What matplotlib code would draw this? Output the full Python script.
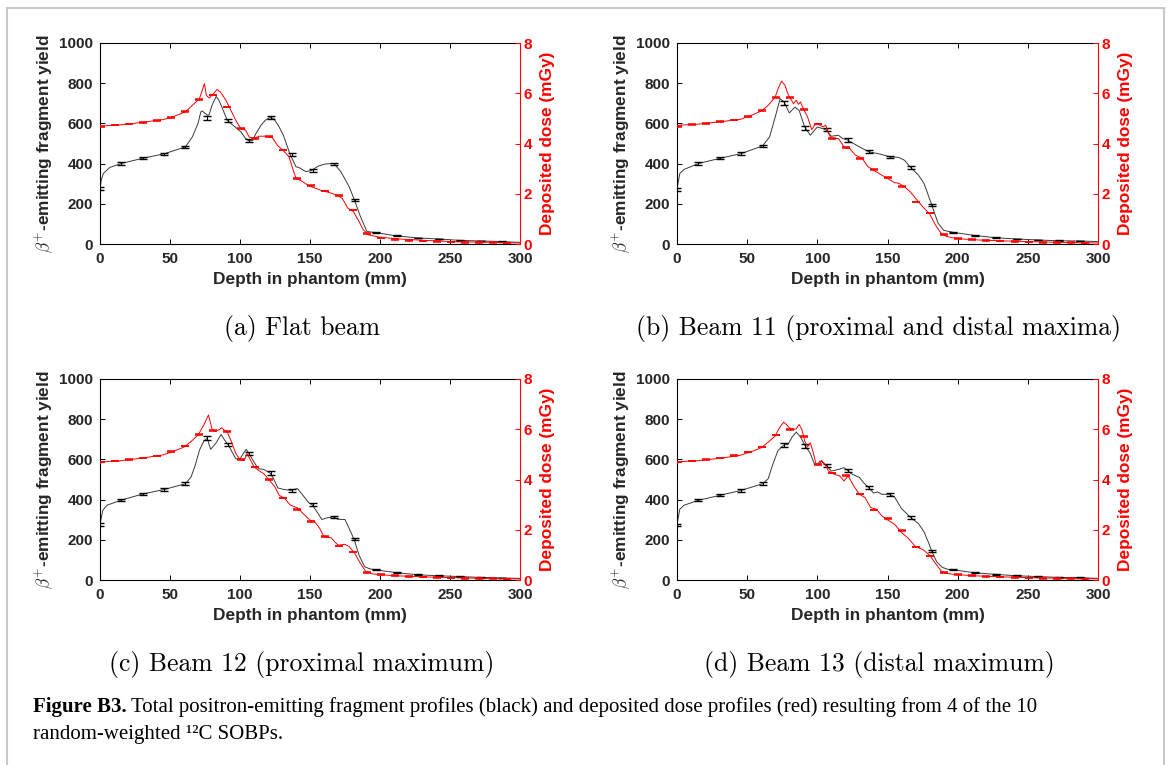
import numpy as np
import matplotlib
matplotlib.use("Agg")
from matplotlib import pyplot as plt
from matplotlib.patches import Rectangle

plt.rcParams['font.family'] = ['Liberation Sans', 'DejaVu Sans']
plt.rcParams['mathtext.fontset'] = 'cm'

# shared marker positions (mm)
eb_depth = [0, 15.3, 30.5, 45.8, 61, 76.3, 91.5, 106.6, 121.8, 137, 152, 167, 182, 197, 212, 227, 242, 257, 272, 287]
eb_err = [6, 6, 5, 6, 7, 10, 9, 8, 9, 7, 6, 6, 5, 3, 3, 2, 2, 2, 2, 2]
rd_depth = [0.5, 10.5, 20.5, 30.5, 40.5, 50.5, 60.5, 70.5, 80.5, 90.5, 100.5, 110.5, 120.5, 130.5, 140.5,
            150.5, 160.5, 170.5, 180.5, 190.5, 200.5, 210.5, 220.5, 230.5, 240.5, 250.5, 260.5, 270.5, 280.5, 290.5]

# (a) flat beam
a_depth = [0, 1, 2.4, 7, 15.4, 30.8, 46, 61, 66, 70, 72, 73, 75, 77, 78, 80, 83, 85, 88, 91, 95, 100.6, 104, 106.5,
           109, 111, 115, 118, 121, 124, 128, 131, 135.7, 140, 142, 147, 151, 156, 161, 167, 172, 178, 181.6, 186,
           190.6, 194, 197, 211, 227, 242, 257, 272, 287, 300]
a_yield = [277, 320, 351, 381, 401, 427, 449, 483, 533, 600, 657, 662, 650, 640, 645, 690, 734, 715, 665, 614, 591, 558,
           525, 512, 516, 545, 591, 615, 629, 625, 582, 541, 447, 384, 381, 360, 366, 388, 398, 401, 360, 285, 221, 137,
           63, 59, 57, 41, 30, 25, 18, 15, 12, 8]
a_eb = [277, 401, 427, 449, 483, 629, 614, 513, 629, 447, 366, 399, 221, 58, 41, 30, 25, 18, 15, 12]
a_dose_depth = [0, 2, 16.6, 31, 45, 51, 58, 61.6, 66, 71, 73, 74.6, 76, 78, 80.5, 83.6, 86, 90, 93.5, 97, 100.6, 104,
                106.5, 110, 113.7, 118, 123, 126.7, 131, 135, 138, 140, 144, 149, 154, 159, 163, 169, 173, 177, 181,
                185, 188, 192, 199, 213, 230, 253, 277, 300]
a_dose = [4.63, 4.70, 4.75, 4.85, 4.95, 5.04, 5.19, 5.29, 5.52, 5.78, 6.11, 6.38, 5.91, 5.81, 5.95, 6.15, 6.05, 5.72,
          5.32, 4.92, 4.59, 4.53, 4.26, 4.20, 4.29, 4.29, 4.24, 3.93, 3.71, 3.47, 2.94, 2.61, 2.51, 2.32, 2.22, 2.11,
          2.06, 1.95, 1.82, 1.43, 1.29, 0.90, 0.57, 0.36, 0.28, 0.20, 0.15, 0.09, 0.07, 0.04]
a_rd = [4.68, 4.74, 4.78, 4.84, 4.92, 5.04, 5.28, 5.76, 5.93, 5.45, 4.60, 4.19, 4.28, 3.74, 2.60, 2.33, 2.11, 1.93,
        1.36, 0.42, 0.24, 0.18, 0.14, 0.12, 0.10, 0.08, 0.07, 0.06, 0.05, 0.04]

# (b) beam 11
b_depth = [0, 2, 5, 15.5, 30.5, 45.8, 61, 66, 70, 73.5, 76.5, 80, 84, 87, 91, 95, 97, 100, 104, 106.5, 110, 115, 118,
           121.5, 130, 136.5, 145, 151.5, 158, 162, 166.5, 172, 176, 181.5, 186, 190, 196.5, 211.5, 227, 242, 257,
           272, 287, 300]
b_yield = [272, 351, 371, 401, 426, 450, 488, 533, 632, 723, 705, 652, 681, 665, 582, 541, 558, 582, 574, 566, 536,
           541, 525, 517, 483, 459, 447, 434, 431, 417, 381, 343, 302, 195, 104, 68, 58, 43, 31, 25, 20, 16, 15, 12]
b_eb = [272, 401, 426, 450, 488, 701, 578, 569, 517, 459, 434, 381, 195, 58, 43, 31, 25, 20, 16, 15]
b_dose_depth = [0, 2, 15, 30, 45, 52, 60, 65, 70, 72, 74.5, 77, 79, 81, 83, 85, 86.5, 88, 90, 93, 96, 98, 100, 104,
                106, 108, 110, 115, 119, 123, 127, 132, 136, 140, 145, 150, 155, 158, 162, 166, 170, 175, 180, 184,
                188, 192, 200, 215, 240, 270, 300]
b_dose = [4.66, 4.73, 4.77, 4.86, 4.96, 5.10, 5.29, 5.52, 5.85, 6.18, 6.48, 6.31, 5.98, 5.78, 5.58, 5.72, 5.56, 5.65,
          5.39, 5.06, 4.55, 4.73, 4.79, 4.66, 4.73, 4.40, 4.20, 4.20, 3.87, 3.80, 3.54, 3.41, 3.08, 2.94, 2.77, 2.61,
          2.44, 2.42, 2.28, 2.09, 1.82, 1.49, 1.20, 0.77, 0.44, 0.30, 0.21, 0.16, 0.11, 0.07, 0.04]
b_rd = [4.68, 4.76, 4.80, 4.87, 4.93, 5.07, 5.31, 5.84, 5.84, 5.36, 4.78, 4.20, 3.84, 3.41, 2.97, 2.64, 2.29, 1.67,
        1.23, 0.37, 0.23, 0.18, 0.15, 0.12, 0.10, 0.08, 0.07, 0.06, 0.05, 0.04]

# (c) beam 12
c_depth = [0, 2, 5, 15.4, 30.6, 45.8, 61, 65, 68, 71, 74, 76.5, 79, 83, 86.5, 89, 91.5, 95, 97, 100, 103, 104.5,
           106.5, 110, 113, 117, 121.5, 124, 127, 131, 136.5, 141, 145, 149, 151.5, 155, 158.5, 162, 166.5, 170, 175,
           178, 181.5, 185, 189, 193, 196.5, 212, 227, 242, 257, 272, 287, 300]
c_yield = [276, 347, 372, 398, 428, 450, 479, 512, 570, 645, 689, 706, 650, 683, 724, 696, 674, 628, 603, 603, 636,
           650, 628, 587, 554, 550, 532, 504, 458, 451, 446, 455, 421, 385, 375, 339, 301, 309, 314, 302, 301, 256,
           202, 124, 66, 55, 51, 36, 26, 21, 17, 13, 10, 8]
c_eb = [276, 398, 428, 450, 479, 706, 674, 628, 532, 446, 375, 314, 202, 51, 36, 26, 21, 17, 13, 10]
c_dose_depth = [0, 2, 15, 30, 45, 52, 60, 65, 70, 74, 77.5, 80, 82, 85, 87, 89, 91, 94, 97, 100, 103, 105, 107, 110,
                113, 117, 121, 125, 128, 132, 136, 141, 145, 150, 153, 157, 160, 165, 170, 175, 178, 182, 186, 190,
                195, 210, 240, 270, 300]
c_dose = [4.64, 4.70, 4.75, 4.85, 4.98, 5.11, 5.29, 5.51, 5.77, 6.15, 6.57, 6.01, 5.91, 5.98, 6.06, 5.95, 5.88, 5.49,
          5.03, 4.80, 4.76, 5.03, 4.83, 4.50, 4.37, 4.23, 3.97, 3.70, 3.37, 3.24, 2.98, 2.87, 2.65, 2.38, 2.34, 2.05,
          1.72, 1.68, 1.39, 1.42, 1.33, 1.06, 0.66, 0.33, 0.24, 0.17, 0.11, 0.07, 0.04]
c_rd = [4.70, 4.74, 4.79, 4.86, 4.94, 5.11, 5.33, 5.80, 5.95, 5.90, 4.80, 4.50, 3.99, 3.26, 2.80, 2.33, 1.72, 1.36,
        1.11, 0.31, 0.21, 0.17, 0.14, 0.12, 0.10, 0.08, 0.07, 0.06, 0.05, 0.04]

# (d) beam 13
d_depth = [0, 2, 5, 15.5, 30.5, 45.8, 61, 65, 68, 72, 76.5, 79, 82, 85, 88, 91.5, 95, 98, 100, 102, 104, 106.5, 110,
           115, 119, 121.5, 125, 130, 133, 136.5, 140, 143, 146, 151.5, 155, 160, 166.5, 172, 176, 179, 181.5, 185,
           189, 193, 196.5, 212, 227, 242, 257, 272, 287, 300]
d_yield = [276, 352, 372, 397, 421, 446, 479, 504, 570, 645, 673, 673, 711, 736, 711, 666, 630, 575, 575, 592, 583,
           570, 542, 550, 559, 545, 526, 510, 484, 460, 433, 438, 426, 426, 413, 355, 311, 281, 240, 190, 144, 91, 63,
           53, 51, 36, 28, 21, 17, 13, 12, 8]
d_eb = [273, 397, 421, 446, 479, 673, 666, 570, 545, 460, 426, 311, 144, 51, 36, 28, 21, 17, 13, 12]
d_dose_depth = [0, 2, 15, 30, 45, 52, 60, 65, 70, 73, 76, 78, 80, 83, 85, 87, 89, 91, 93, 95, 97, 99, 101, 103, 105,
                108, 112, 116, 119, 122, 126, 130, 134, 138, 142, 146, 150, 155, 160, 165, 170, 175, 180, 185, 189,
                195, 210, 240, 270, 300]
d_dose = [4.64, 4.71, 4.75, 4.84, 4.96, 5.09, 5.26, 5.49, 5.73, 6.06, 6.28, 6.19, 6.06, 5.99, 6.02, 6.19, 5.99, 5.53,
          5.30, 5.46, 5.09, 4.63, 4.56, 4.76, 4.64, 4.34, 4.21, 4.14, 3.94, 4.14, 3.74, 3.41, 3.28, 2.88, 2.82, 2.55,
          2.39, 2.22, 1.89, 1.65, 1.32, 1.22, 0.99, 0.60, 0.30, 0.24, 0.17, 0.11, 0.07, 0.04]
d_rd = [4.70, 4.74, 4.79, 4.86, 4.95, 5.09, 5.30, 5.77, 6.00, 5.72, 4.59, 4.26, 4.16, 3.42, 2.78, 2.44, 1.97, 1.32,
        0.95, 0.30, 0.21, 0.17, 0.14, 0.12, 0.10, 0.08, 0.07, 0.06, 0.05, 0.04]

subtitles = ['(a) Flat beam', '(b) Beam 11 (proximal and distal maxima)',
             '(c) Beam 12 (proximal maximum)', '(d) Beam 13 (distal maximum)']

W, H = 1170, 765
fig = plt.figure(figsize=(W / 100, H / 100), dpi=100)

# grey page frame
fig.add_artist(Rectangle((7 / W, -0.02), 1157 / W, 1 - 8 / H + 0.02, transform=fig.transFigure,
                         fill=False, edgecolor='#c8c8c8', lw=1.5))

dark = '#262626'


def panel(box, depth, yld, eb, ddepth, dose, rd, sub, subpos):
    l, t, r, b = box
    ax = fig.add_axes([l / W, 1 - b / H, (r - l) / W, (b - t) / H])
    ax2 = ax.twinx()
    ax.plot(depth, yld, color='#3a3a3a', lw=0.7)
    ax.errorbar(eb_depth, eb, yerr=eb_err, fmt='none', ecolor='black', elinewidth=0.8, capsize=3, capthick=1)
    ax2.plot(ddepth, dose, color='red', lw=0.7)
    ax2.errorbar(rd_depth, rd, yerr=0.012, fmt='none', ecolor='red', elinewidth=0.8, capsize=3, capthick=1.1)
    ax.set_xlim(0, 300)
    ax.set_ylim(0, 1000)
    ax2.set_ylim(0, 8)
    ax.set_xticks([0, 50, 100, 150, 200, 250, 300])
    ax.set_yticks([0, 200, 400, 600, 800, 1000])
    ax2.set_yticks([0, 2, 4, 6, 8])
    ax.tick_params(direction='in', top=True, right=False, length=3.5, width=0.7, labelsize=11,
                   labelcolor=dark)
    ax.tick_params(axis='x', pad=6)
    ax.tick_params(axis='y', pad=5)
    ax2.tick_params(direction='in', colors='red', length=3.5, width=0.7, labelsize=11, pad=2.5)
    for lab in ax.get_xticklabels() + ax.get_yticklabels() + ax2.get_yticklabels():
        lab.set_fontweight('bold')
    ax.spines['right'].set_visible(False)
    ax2.spines['right'].set_color('red')
    for s in ['left', 'top', 'bottom']:
        ax.spines[s].set_linewidth(0.8)
        ax2.spines[s].set_visible(False)
    ax.set_xlabel('Depth in phantom (mm)', fontsize=12.4, fontweight='bold', color=dark, labelpad=4)
    ax.set_ylabel(r'$\beta^{+}$-emitting fragment yield', fontsize=12.4, fontweight='bold', color=dark,
                  labelpad=3)
    ax2.set_ylabel('Deposited dose (mGy)', fontsize=12.4, fontweight='bold', color='red', labelpad=6)
    fig.text(subpos[0] / W, 1 - subpos[1] / H, sub, ha='center', va='center', fontfamily='cmr10', fontsize=18.5)


panel((100, 43, 520, 244), a_depth, a_yield, a_eb, a_dose_depth, a_dose, a_rd, subtitles[0], (302, 329))
panel((677, 43, 1098, 244), b_depth, b_yield, b_eb, b_dose_depth, b_dose, b_rd, subtitles[1], (879, 329))
panel((100, 379, 520, 580), c_depth, c_yield, c_eb, c_dose_depth, c_dose, c_rd, subtitles[2], (302, 665))
panel((677, 379, 1098, 580), d_depth, d_yield, d_eb, d_dose_depth, d_dose, d_rd, subtitles[3], (879, 665))

# caption
bg = fig.add_axes([0, 0, 1, 1], facecolor='none')
bg.set_axis_off()
t1 = fig.text(33 / W, 1 - 707 / H, 'Figure B3.', fontfamily='Liberation Serif', fontweight='bold',
              fontsize=15, va='center')
bg.annotate('Total positron-emitting fragment profiles (black) and deposited dose profiles (red) '
            'resulting from 4 of the 10', xy=(1, 0.5), xycoords=t1, xytext=(3, 0), textcoords='offset points',
            va='center', fontfamily='Liberation Serif', fontsize=15, annotation_clip=False)
fig.text(33 / W, 1 - 734 / H, 'random-weighted \u00b9\u00b2C SOBPs.', fontfamily='Liberation Serif',
         fontsize=15, va='center')

fig.savefig('out.png', dpi=100)
